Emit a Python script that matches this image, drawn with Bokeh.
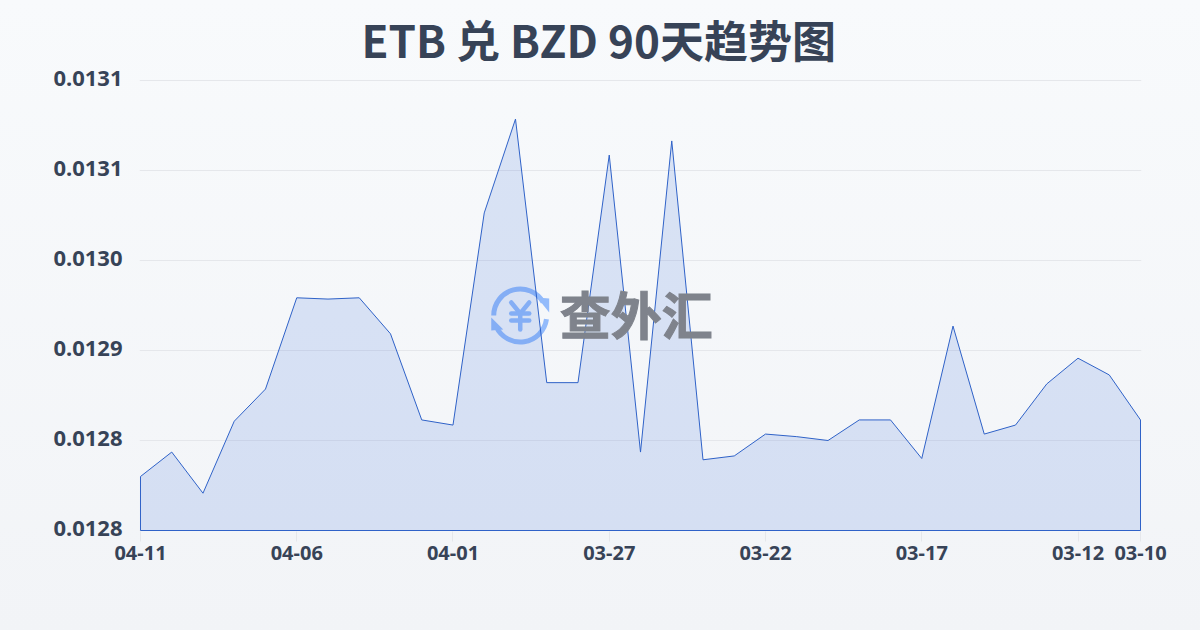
from bokeh.embed import file_html
from bokeh.resources import INLINE
from bokeh.plotting import figure
from bokeh.models import FixedTicker, Range1d, GlobalInlineStyleSheet, Label, LinearAxis
import math

TITLE = "ETB 兑 BZD 90天趋势图"
dates = ["04-11","04-10","04-09","04-08","04-07","04-06","04-05","04-04","04-03","04-02","04-01",
         "03-31","03-30","03-29","03-28","03-27","03-26","03-25","03-24","03-23","03-22",
         "03-21","03-20","03-19","03-18","03-17","03-16","03-15","03-14","03-13","03-12","03-11","03-10"]
rates = [.012812,.012831,.012799,.012855,.012880,.012951,.012950,.012951,.012923,.012856,.012852,
         .013017,.013090,.012885,.012885,.013062,.012831,.013073,.012825,.012828,.012845,
         .012843,.012840,.012856,.012856,.012826,.012929,.012845,.012852,.012884,.012904,.012891,.012856]
x_labels = ["04-11","04-06","04-01","03-27","03-22","03-17","03-12","03-10"]
y_ticks = [.01277,.01284,.01291,.01298,.01305,.01312]
y_labels = ["0.0128","0.0128","0.0129","0.0130","0.0131","0.0131"]
WATERMARK = "查外汇"

X_STEP_PX = 1000.7 / 32
Y_PER_PX = (y_ticks[-1] - y_ticks[0]) / 450
INK = "#374357"

xs = list(range(len(rates)))
base = y_ticks[0]

p = figure(width=1184, height=614, output_backend="svg", toolbar_location=None,
           x_range=Range1d(-1 / X_STEP_PX, 32 + 1 / X_STEP_PX),
           y_range=Range1d(base - Y_PER_PX, y_ticks[-1] + 5 * Y_PER_PX),
           y_axis_location=None,
           min_border_left=139, min_border_right=43, min_border_top=75, min_border_bottom=83,
           background_fill_alpha=0, border_fill_alpha=0, outline_line_alpha=0)
p.stylesheets = [GlobalInlineStyleSheet(css="html{min-height:100%;background:linear-gradient(180deg,#f8fafc,#f2f4f7)}body{background:transparent}")]

p.title.text = TITLE
p.title.align = "left"
p.title.offset = 222
p.title.standoff = 9
p.title.text_font = "Noto Sans CJK SC"
p.title.text_font_style = "bold"
p.title.text_font_size = "44px"
p.title.text_color = INK

def px_x(px):
    return (px - 140) / X_STEP_PX

def px_y(py):
    return base + (530 - py) * Y_PER_PX

# watermark, underneath the area
LOGO = "#93bbfb"
cx, cy = px_x(520), px_y(315)
p.annular_wedge([cx], [cy], inner_radius=24, outer_radius=29, inner_radius_units="screen", outer_radius_units="screen",
                start_angle=[math.radians(30)], end_angle=[math.radians(180)], color=LOGO, line_alpha=0)
p.annular_wedge([cx], [cy], inner_radius=24, outer_radius=29, inner_radius_units="screen", outer_radius_units="screen",
                start_angle=[math.radians(205)], end_angle=[math.radians(352)], color=LOGO, line_alpha=0)
p.patch([px_x(v) for v in (537, 549, 549)], [px_y(v) for v in (297, 298, 312)], color=LOGO, line_alpha=0)
p.patch([px_x(v) for v in (491, 491, 503)], [px_y(v) for v in (317, 330, 329)], color=LOGO, line_alpha=0)
p.multi_line([[px_x(v) for v in seg] for seg in ((511, 520, 529), (511, 529), (511, 529), (520, 520))],
             [[px_y(v) for v in seg] for seg in ((302, 313, 302), (313, 313), (320, 320), (313, 329))],
             line_color=LOGO, line_width=4.5, line_cap="round", line_join="round")
p.add_layout(Label(x=px_x(636), y=px_y(312), text=WATERMARK, text_font="Noto Sans CJK SC", text_font_style="bold",
                   text_font_size="51px", text_color="#7f838c", text_outline_color="#7f838c",
                   text_align="center", text_baseline="middle"))

p.patch([xs[0]] + xs + [xs[-1]], [base] + rates + [base],
        fill_color="#2f62d9", fill_alpha=0.15, line_color="#2f62c8", line_width=1, line_join="miter")

p.xaxis.ticker = FixedTicker(ticks=[dates.index(d) for d in x_labels])
p.xaxis.major_label_overrides = {dates.index(d): d for d in x_labels}
p.xaxis.axis_line_alpha = 0
p.xaxis.major_tick_line_color = "#e5e7eb"
p.xaxis.major_tick_out = 10
p.xaxis.major_tick_in = 0
p.xaxis.minor_tick_line_alpha = 0
p.xaxis.major_label_standoff = 4
p.xaxis.major_label_text_font = "Noto Sans"
p.xaxis.major_label_text_font_style = "bold"
p.xaxis.major_label_text_font_size = "20px"
p.xaxis.major_label_text_color = INK

# labels sit 2px above their gridlines
p.extra_y_ranges = {"labels": Range1d(base - 3 * Y_PER_PX, y_ticks[-1] + 3 * Y_PER_PX)}
yaxis = LinearAxis(y_range_name="labels", ticker=FixedTicker(ticks=y_ticks),
                   major_label_overrides=dict(zip(y_ticks, y_labels)))
yaxis.axis_line_alpha = 0
yaxis.major_tick_line_alpha = 0
yaxis.minor_tick_line_alpha = 0
yaxis.major_tick_out = 0
yaxis.major_tick_in = 0
yaxis.major_label_standoff = 17
yaxis.major_label_text_font = "Noto Sans"
yaxis.major_label_text_font_style = "bold"
yaxis.major_label_text_font_size = "22px"
yaxis.major_label_text_color = INK
p.add_layout(yaxis, "left")

p.xgrid.grid_line_alpha = 0
p.ygrid.ticker = FixedTicker(ticks=y_ticks)
p.ygrid.grid_line_color = "#e5e7eb"
p.ygrid.grid_line_width = 1

open("out.html", "w").write(file_html(p, INLINE))
